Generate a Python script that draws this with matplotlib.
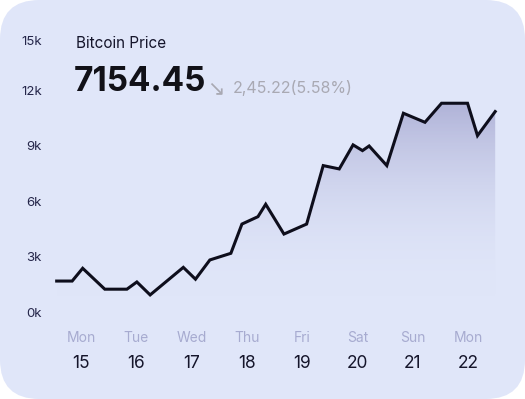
import numpy as np
import matplotlib
matplotlib.use("Agg")
import matplotlib.pyplot as plt
from matplotlib.patches import FancyBboxPatch
from matplotlib.colors import LinearSegmentedColormap
import matplotlib.transforms as mtransforms

plt.rcParams['font.family'] = ['Inter', 'DejaVu Sans']

# price series (x in days, y in thousands)
days = [14.56, 14.84, 15.03, 15.43, 15.83, 16.01, 16.25, 16.85, 17.07, 17.33,
        17.71, 17.91, 18.20, 18.34, 18.67, 19.08, 19.38, 19.67, 19.92, 20.09,
        20.21, 20.53, 20.83, 21.22, 21.52, 21.99, 22.17, 22.49]
price = [1.78, 1.78, 2.47, 1.34, 1.34, 1.73, 1.03, 2.52, 1.88, 2.92,
         3.28, 4.86, 5.26, 5.93, 4.32, 4.86, 8.02, 7.84, 9.14, 8.83,
         9.08, 8.02, 10.85, 10.36, 11.39, 11.39, 9.64, 10.94]

day_names = ["Mon", "Tue", "Wed", "Thu", "Fri", "Sat", "Sun", "Mon"]
day_nums = [15, 16, 17, 18, 19, 20, 21, 22]
ytick_vals = [0, 3, 6, 9, 12, 15]
ytick_pos = [0, 3, 6, 9, 12, 14.7]

title = "Bitcoin Price"
current = "7154.45"
change = "2,45.22(5.58%)"

bg = "#e0e6f9"
fig = plt.figure(figsize=(5.25, 3.99), dpi=100)
fig.patch.set_facecolor("white")
card = FancyBboxPatch((0, 0), 1, 1, boxstyle="round,pad=0,rounding_size=0.075",
                      transform=fig.transFigure, facecolor=bg, edgecolor="none",
                      mutation_aspect=525 / 399, zorder=-10)
fig.patches.append(card)

ax = fig.add_axes([0, 0, 1, 1])
ax.set_zorder(5)
ax.set_facecolor("none")
ax.axis("off")
ax.set_xlim(13.535, 23.029)
ax.set_ylim(-4.595, 16.97)

# gradient fill under the line
base = 0.9
poly = ax.fill_between(days, price, base, color="none", lw=0)
cmap = LinearSegmentedColormap.from_list("g", [(0.878, 0.902, 0.976, 0.0), (0.68, 0.69, 0.84, 0.95)])
grad = np.linspace(0, 1, 256).reshape(-1, 1)
im = ax.imshow(grad, cmap=cmap, origin="lower", aspect="auto",
               extent=[min(days), max(days), base, max(price)], zorder=1)
im.set_clip_path(poly.get_paths()[0], transform=ax.transData)

ax.plot(days, price, color="#0e0e1c", lw=2.2, solid_joinstyle="miter", zorder=3)

# y labels
ytr = mtransforms.blended_transform_factory(ax.transAxes, ax.transData)
for v, p in zip(ytick_vals, ytick_pos):
    ax.text(42 / 525, p, f"{v}k", transform=ytr, ha="right", va="center",
            fontsize=9.5, color="#25264a")

# day labels
for d, nm, n in zip(day_nums, day_names, day_nums):
    ax.text(d, -1.3, nm, ha="center", va="center", fontsize=10, color="#a7abd0")
    ax.text(d, -2.65, str(n), ha="center", va="center", fontsize=12.5, color="#15152b")

# header
ax.text(76 / 525, 1 - 44 / 399, title, transform=ax.transAxes, ha="left", va="center",
        fontsize=11, color="#15152b")
ax.text(74 / 525, 1 - 82 / 399, current, transform=ax.transAxes, ha="left", va="center",
        fontsize=24, fontweight="bold", color="#111118")
ax.text(207 / 525, 1 - 88 / 399, "\u2198", transform=ax.transAxes, ha="left", va="center",
        fontsize=15, color="#a9a9b3", family=["DejaVu Sans"])
ax.text(233 / 525, 1 - 88 / 399, change, transform=ax.transAxes, ha="left", va="center",
        fontsize=11.5, color="#a9a9b3")

fig.savefig("out.png", dpi=100, facecolor=fig.get_facecolor())
